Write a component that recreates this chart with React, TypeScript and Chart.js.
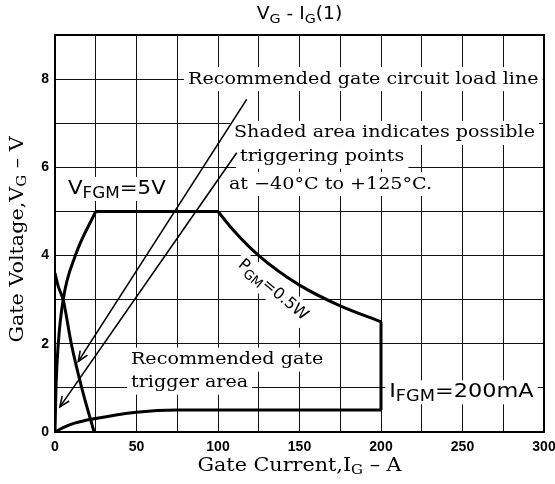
import React, { useEffect, useRef } from "react";
import { Chart, registerables } from "chart.js";

Chart.register(...registerables);

// ---- data (gate current in mA, gate voltage in V) ----
const gateMaxI = [0, 0.6, 2, 5, 12.5, 25];
const gateMaxV = [0, 1, 2, 3, 4, 5];
const vfgmI = [25, 100];
const vfgmV = [5, 5];
const pgmI = [100, 110, 125, 150, 175, 200];
const pgmV = [5, 4.55, 4, 3.33, 2.86, 2.5];
const ifgmI = [200, 200];
const ifgmV = [2.5, 0.5];
const gateMinI = [0, 2, 5, 10, 16.4, 24];
const gateMinV = [3.6, 3.3, 3.0, 2.0, 1.0, 0];
const lowerI = [0, 5, 12, 24, 50, 75, 200];
const lowerV = [0, 0.1, 0.2, 0.3, 0.45, 0.5, 0.5];
const load1I = [14.3, 117.6];
const load1V = [1.6, 7.54];
const load2I = [3, 111.5];
const load2V = [0.57, 6.33];

const xMin = 0, xMax = 300, xStep = 25, xLabelEvery = 50;
const yMin = 0, yMax = 9, yStep = 1, yLabelEvery = 2, yLabelMax = 8;

type Part = { t: string; sub?: boolean };

const titleParts: Part[] = [{ t: "V" }, { t: "G", sub: true }, { t: " - I" }, { t: "G", sub: true }, { t: "(1)" }];
const xTitleParts: Part[] = [{ t: "Gate Current,I" }, { t: "G", sub: true }, { t: " – A" }];
const yTitleParts: Part[] = [{ t: "Gate Voltage,V" }, { t: "G", sub: true }, { t: " – V" }];

type Style = { font: string; sub: string; sx: number; subDy: number };
const SERIF: Style = { font: "17px 'DejaVu Serif'", sub: "13px 'DejaVu Serif'", sx: 1.125, subDy: 5 };
const SANS: Style = { font: "19px 'DejaVu Sans'", sub: "15px 'DejaVu Sans'", sx: 1.12, subDy: 5 };
const SANS_WIDE: Style = { font: "19px 'DejaVu Sans'", sub: "15px 'DejaVu Sans'", sx: 1.18, subDy: 5 };
const SANS_SMALL: Style = { font: "16px 'DejaVu Sans'", sub: "13px 'DejaVu Sans'", sx: 1.0, subDy: 5 };
const AXIS: Style = { font: "18px 'DejaVu Serif'", sub: "13px 'DejaVu Serif'", sx: 1.15, subDy: 5 };
const TITLE: Style = { font: "17px 'DejaVu Sans'", sub: "13px 'DejaVu Sans'", sx: 1.1, subDy: 5 };

type Note = { parts: Part[]; x: number; y: number; style: Style; rot?: number; center?: boolean };
const notes: Note[] = [
  { parts: [{ t: "Recommended gate circuit load line" }], x: 81.6, y: 8, style: SERIF },
  { parts: [{ t: "Shaded area indicates possible" }], x: 109.8, y: 6.78, style: SERIF },
  { parts: [{ t: "triggering points" }], x: 113.5, y: 6.24, style: SERIF },
  { parts: [{ t: "at −40°C to +125°C." }], x: 106.7, y: 5.62, style: SERIF },
  { parts: [{ t: "V" }, { t: "FGM", sub: true }, { t: "=5V" }], x: 8, y: 5.51, style: SANS },
  { parts: [{ t: "P" }, { t: "GM", sub: true }, { t: "=0.5W" }], x: 133.7, y: 3.22, style: SANS_SMALL, rot: 40, center: true },
  { parts: [{ t: "Recommended gate" }], x: 46.6, y: 1.64, style: SERIF },
  { parts: [{ t: "trigger area" }], x: 46.6, y: 1.12, style: SERIF },
  { parts: [{ t: "I" }, { t: "FGM", sub: true }, { t: "=200mA" }], x: 205, y: 0.9, style: SANS_WIDE },
];

function pts(xs: number[], ys: number[]) {
  return xs.map((x, i) => ({ x, y: ys[i] }));
}

function measure(ctx: CanvasRenderingContext2D, parts: Part[], st: Style) {
  let w = 0;
  const ws = parts.map((p) => {
    ctx.font = p.sub ? st.sub : st.font;
    const m = ctx.measureText(p.t).width;
    w += m;
    return m;
  });
  return { w: w * st.sx, ws };
}

// draws rich text with its left edge at (x, y) (y = middle)
function drawRich(ctx: CanvasRenderingContext2D, parts: Part[], x: number, y: number, st: Style) {
  const { ws } = measure(ctx, parts, st);
  ctx.save();
  ctx.translate(x, y);
  ctx.scale(st.sx, 1);
  let cx = 0;
  ctx.textBaseline = "middle";
  ctx.textAlign = "left";
  ctx.fillStyle = "#000";
  parts.forEach((p, i) => {
    ctx.font = p.sub ? st.sub : st.font;
    ctx.fillText(p.t, cx, p.sub ? st.subDy : 0);
    cx += ws[i];
  });
  ctx.restore();
}

function drawCentered(ctx: CanvasRenderingContext2D, parts: Part[], x: number, y: number, st: Style) {
  const { w } = measure(ctx, parts, st);
  drawRich(ctx, parts, x - w / 2, y, st);
}

const overlay = {
  id: "overlay",
  beforeDatasetsDraw(chart: any) {
    const ctx: CanvasRenderingContext2D = chart.ctx;
    const xs = chart.scales.x, ys = chart.scales.y;
    ctx.save();
    for (const n of notes) {
      const px = xs.getPixelForValue(n.x);
      const py = ys.getPixelForValue(n.y);
      const { w } = measure(ctx, n.parts, n.style);
      ctx.save();
      ctx.translate(px, py);
      if (n.rot) ctx.rotate((n.rot * Math.PI) / 180);
      const left = n.center ? -w / 2 : 0;
      ctx.fillStyle = "#fff";
      ctx.fillRect(left - 4, -12, w + 8, 24);
      drawRich(ctx, n.parts, left, 0, n.style);
      ctx.restore();
    }
    ctx.restore();
  },
  afterDatasetsDraw(chart: any) {
    const ctx: CanvasRenderingContext2D = chart.ctx;
    const xs = chart.scales.x, ys = chart.scales.y;
    const a = chart.chartArea;
    ctx.save();
    for (const [li, lv] of [[load1I, load1V], [load2I, load2V]] as number[][][]) {
      const x0 = xs.getPixelForValue(li[0]), y0 = ys.getPixelForValue(lv[0]);
      const x1 = xs.getPixelForValue(li[1]), y1 = ys.getPixelForValue(lv[1]);
      const ang = Math.atan2(y0 - y1, x0 - x1);
      ctx.strokeStyle = "#000";
      ctx.lineWidth = 1.6;
      ctx.beginPath();
      ctx.moveTo(x0 - 11 * Math.cos(ang - 0.4), y0 - 11 * Math.sin(ang - 0.4));
      ctx.lineTo(x0, y0);
      ctx.lineTo(x0 - 11 * Math.cos(ang + 0.4), y0 - 11 * Math.sin(ang + 0.4));
      ctx.stroke();
    }
    ctx.strokeStyle = "#000";
    ctx.lineWidth = 2;
    ctx.strokeRect(a.left, a.top, a.right - a.left, a.bottom - a.top);
    ctx.restore();
  },
  afterDraw(chart: any) {
    const ctx: CanvasRenderingContext2D = chart.ctx;
    const a = chart.chartArea;
    ctx.save();
    drawCentered(ctx, titleParts, (a.left + a.right) / 2, 15, TITLE);
    drawCentered(ctx, xTitleParts, (a.left + a.right) / 2, 466, AXIS);
    ctx.translate(18, (a.top + a.bottom) / 2 + 6);
    ctx.rotate(-Math.PI / 2);
    drawCentered(ctx, yTitleParts, 0, 0, AXIS);
    ctx.restore();
  },
};

export default function App() {
  const ref = useRef<HTMLCanvasElement | null>(null);
  useEffect(() => {
    if (!ref.current) return;
    const thick = (xs: number[], ys: number[], smooth: boolean) => ({
      data: pts(xs, ys),
      borderColor: "#000",
      borderWidth: 3,
      pointRadius: 0,
      fill: false,
      cubicInterpolationMode: smooth ? ("monotone" as const) : ("default" as const),
    });
    const thin = (xs: number[], ys: number[]) => ({
      data: pts(xs, ys),
      borderColor: "#000",
      borderWidth: 1.6,
      pointRadius: 0,
      fill: false,
    });
    const tickFont = { family: "'Liberation Sans'", weight: "bold" as const, size: 14 };
    const chart = new Chart(ref.current, {
      type: "line",
      data: {
        datasets: [
          thick(gateMaxI, gateMaxV, true),
          thick(vfgmI, vfgmV, false),
          thick(pgmI, pgmV, true),
          thick(ifgmI, ifgmV, false),
          thick(gateMinI, gateMinV, true),
          thick(lowerI, lowerV, true),
          thin(load1I, load1V),
          thin(load2I, load2V),
        ] as any,
      },
      options: {
        animation: false,
        responsive: true,
        maintainAspectRatio: false,
        layout: { padding: { top: 35, right: 11, bottom: 0, left: 0 } },
        plugins: { legend: { display: false }, title: { display: false }, tooltip: { enabled: false } },
        elements: { point: { radius: 0 } },
        scales: {
          x: {
            type: "linear",
            min: xMin,
            max: xMax,
            grid: { color: "#111", lineWidth: 1, drawTicks: false },
            border: { display: false },
            ticks: {
              stepSize: xStep,
              autoSkip: false,
              maxRotation: 0,
              padding: 7,
              color: "#000",
              font: tickFont,
              callback: (v: any) => (Number(v) % xLabelEvery === 0 ? String(v) : ""),
            },
            afterFit: (s: any) => {
              s.height = 52;
              s.paddingLeft = 0;
              s.paddingRight = 0;
            },
          },
          y: {
            type: "linear",
            min: yMin,
            max: yMax,
            grid: { color: "#111", lineWidth: 1, drawTicks: false },
            border: { display: false },
            ticks: {
              stepSize: yStep,
              autoSkip: false,
              padding: 6,
              color: "#000",
              font: tickFont,
              callback: (v: any) => (Number(v) % yLabelEvery === 0 && Number(v) <= yLabelMax ? String(v) : ""),
            },
            afterFit: (s: any) => {
              s.width = 55;
              s.paddingTop = 0;
              s.paddingBottom = 0;
            },
          },
        },
      } as any,
      plugins: [overlay],
    });
    return () => chart.destroy();
  }, []);
  return (
    <div style={{ position: "absolute", left: 0, top: 0, width: 555, height: 484, background: "#fff" }}>
      <canvas ref={ref} />
    </div>
  );
}
